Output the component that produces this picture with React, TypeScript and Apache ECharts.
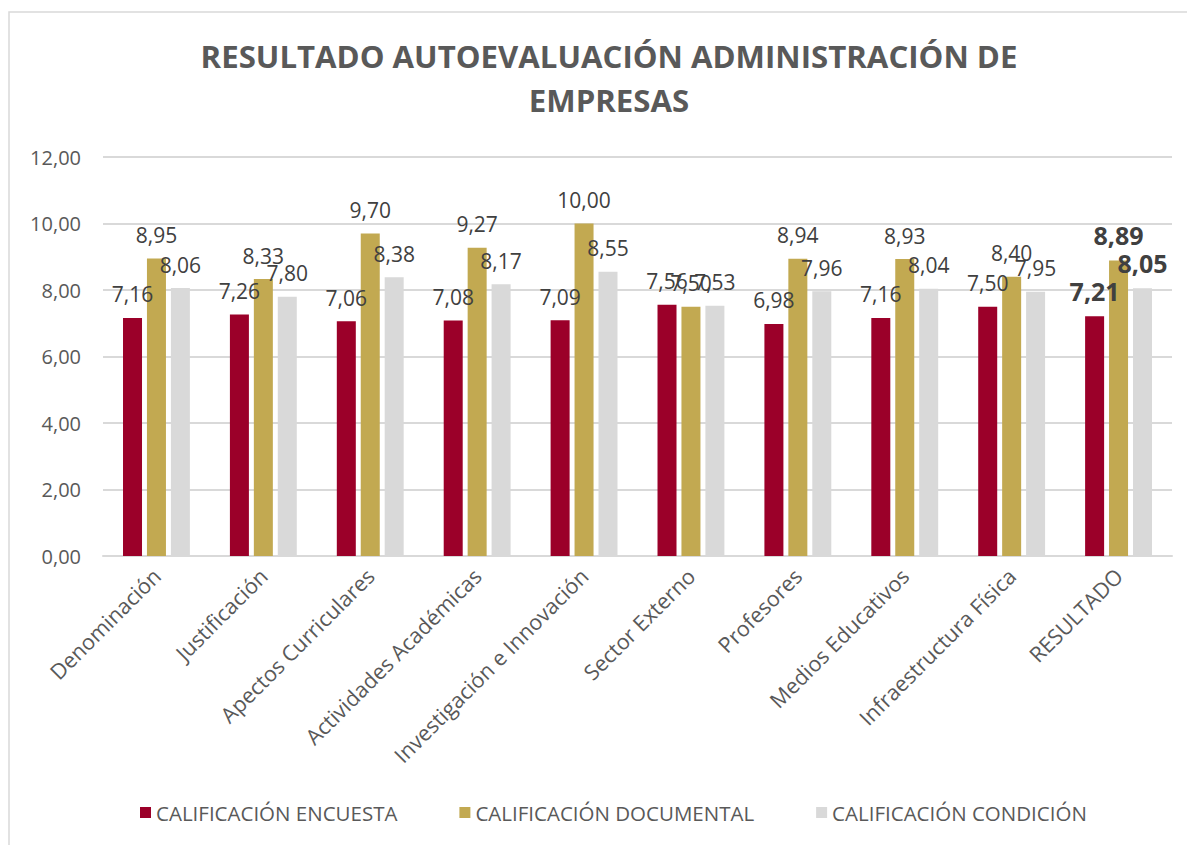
import React, { useEffect, useRef } from "react";
import * as echarts from "echarts";

const categories = [
  "Denominación",
  "Justificación",
  "Apectos Curriculares",
  "Actividades Académicas",
  "Investigación e Innovación",
  "Sector Externo",
  "Profesores",
  "Medios Educativos",
  "Infraestructura Física",
  "RESULTADO",
];
const encuesta = [7.16, 7.26, 7.06, 7.08, 7.09, 7.56, 6.98, 7.16, 7.5, 7.21];
const documental = [8.95, 8.33, 9.7, 9.27, 10.0, 7.5, 8.94, 8.93, 8.4, 8.89];
const condicion = [8.06, 7.8, 8.38, 8.17, 8.55, 7.53, 7.96, 8.04, 7.95, 8.05];
const seriesNames = ["CALIFICACIÓN ENCUESTA", "CALIFICACIÓN DOCUMENTAL", "CALIFICACIÓN CONDICIÓN"];
const colors = ["#9B0029", "#C2A951", "#D9D9D9"];
const titleText = "RESULTADO AUTOEVALUACIÓN ADMINISTRACIÓN DE\nEMPRESAS";

const FONT = "'Open Sans', sans-serif";
const fmt = (v: number) => v.toFixed(2).replace(".", ",");

export default function App() {
  const ref = useRef<HTMLDivElement>(null);
  useEffect(() => {
    document.body.style.margin = "0";
    const chart = echarts.init(ref.current!, undefined, { renderer: "svg" });
    const mk = (vals: number[], i: number) => ({
      name: seriesNames[i],
      type: "bar",
      barWidth: 19,
      barGap: "26%",
      itemStyle: { color: colors[i] },
      label: {
        show: true,
        position: "top",
        distance: 13,
        fontFamily: FONT,
        fontSize: 21,
        color: "#404040",
        formatter: (p: any) => fmt(p.value),
      },
      data: vals.map((v, k) =>
        k === categories.length - 1
          ? { value: v, label: { fontWeight: "bold", fontSize: 25 } }
          : v
      ),
    });
    chart.setOption({
      animation: false,
      textStyle: { fontFamily: FONT },
      graphic: [
        {
          type: "rect",
          shape: { x: 9, y: 12, width: 1200, height: 900 },
          style: { fill: "none", stroke: "#D9D9D9", lineWidth: 1.5 },
          silent: true,
        },
      ],
      title: {
        text: titleText,
        left: 604,
        top: 29,
        textAlign: "center",
        textStyle: {
          fontFamily: FONT,
          fontWeight: "bold",
          fontSize: 31.2,
          lineHeight: 44,
          color: "#595959",
        },
      },
      legend: {
        bottom: 17,
        left: 135,
        itemWidth: 11,
        itemHeight: 11,
        itemGap: 62,
        icon: "rect",
        textStyle: { fontFamily: FONT, fontSize: 20.5, color: "#595959" },
      },
      grid: { left: 103, right: 15, top: 157, bottom: 289 },
      xAxis: {
        type: "category",
        data: categories,
        axisTick: { show: false },
        axisLine: { lineStyle: { color: "#D9D9D9", width: 2 } },
        axisLabel: {
          rotate: 45,
          interval: 0,
          margin: 16,
          fontFamily: FONT,
          fontSize: 21.5,
          color: "#595959",
        },
      },
      yAxis: {
        type: "value",
        min: 0,
        max: 12,
        interval: 2,
        axisLabel: {
          formatter: (v: number) => fmt(v),
          fontFamily: FONT,
          fontSize: 20,
          color: "#595959",
          margin: 22,
        },
        splitLine: { lineStyle: { color: "#D9D9D9", width: 2 } },
      },
      series: [mk(encuesta, 0), mk(documental, 1), mk(condicion, 2)],
    });
    return () => chart.dispose();
  }, []);
  return <div ref={ref} style={{ width: 1187, height: 845 }} />;
}
